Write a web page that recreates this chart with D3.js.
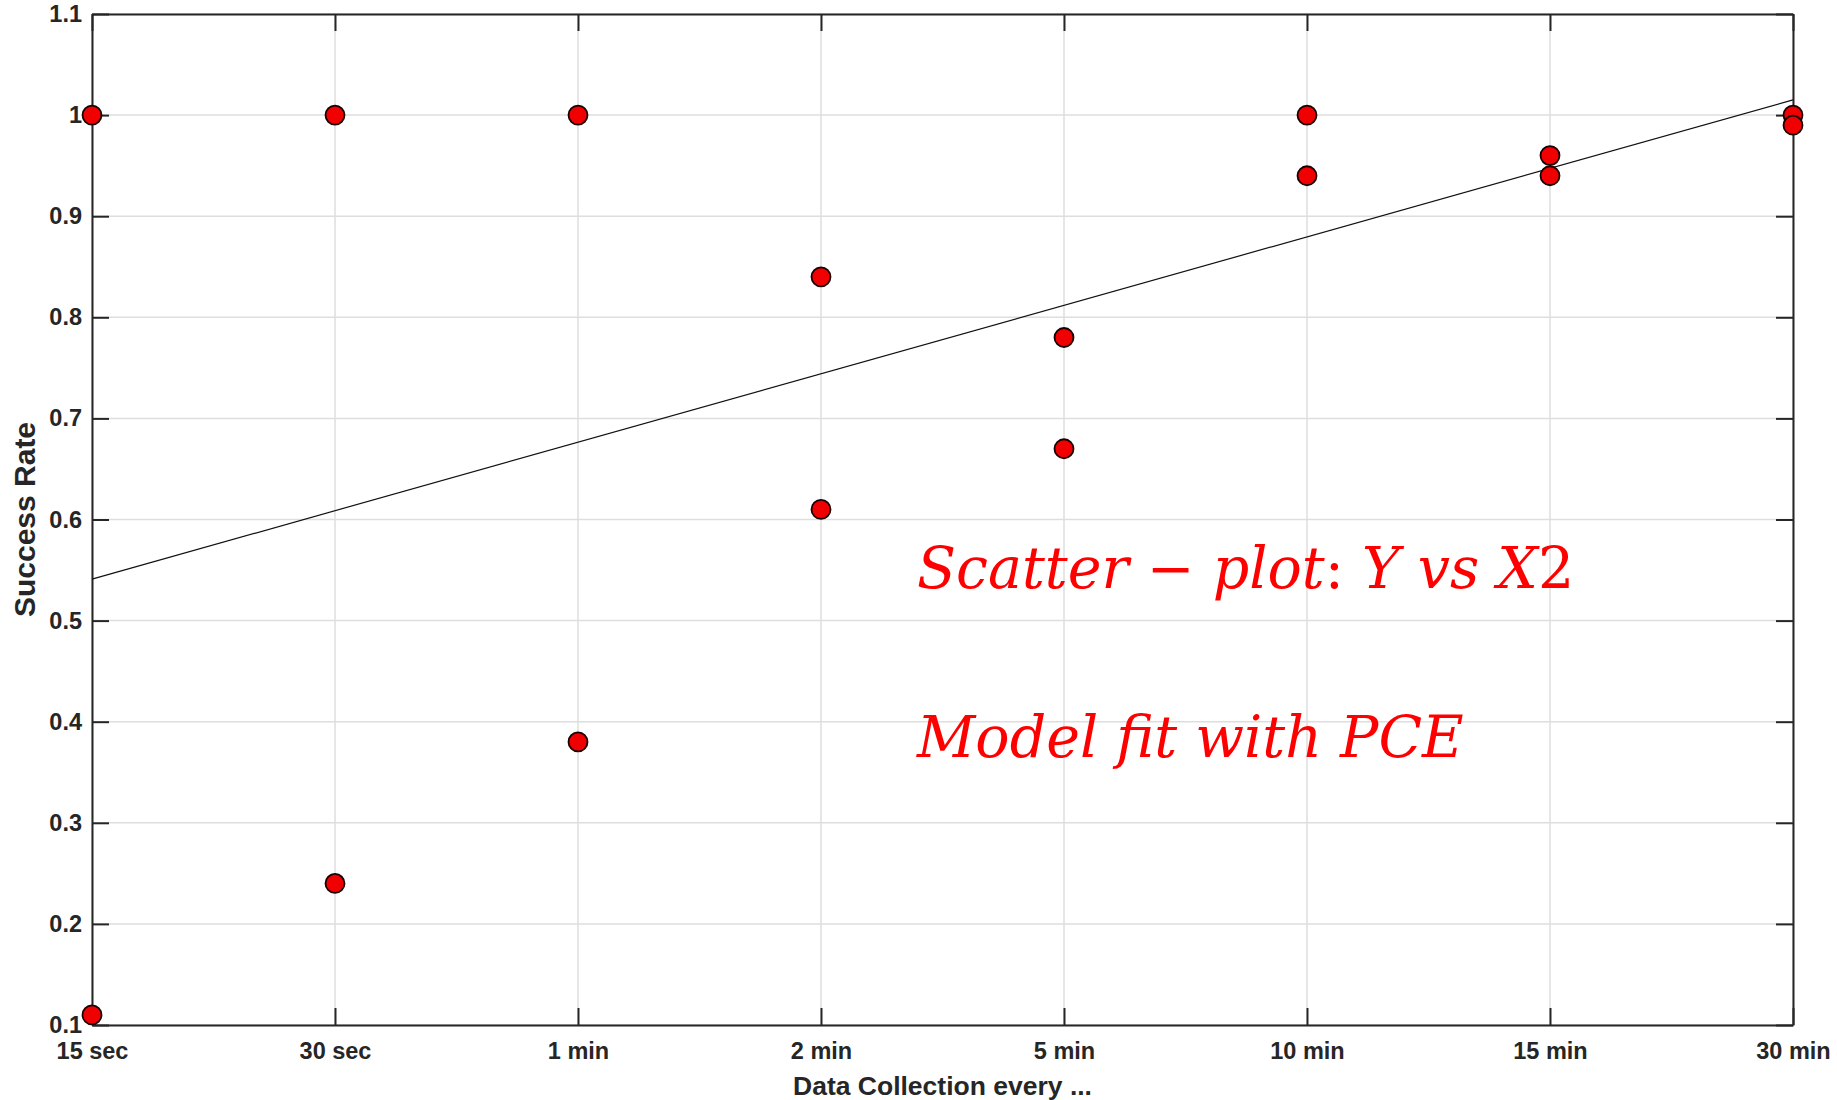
<!DOCTYPE html>
<html>
<head>
<meta charset="utf-8">
<script src="https://cdn.jsdelivr.net/npm/d3@7"></script>
<style>
  body { margin: 0; background: #fff; }
  .lbl { font-family: "Liberation Sans", Arial, sans-serif; }
  .tick text { font-family: "Liberation Sans", Arial, sans-serif; font-weight: bold; fill: #262626; font-size: 23.5px; }
  .ann { font-family: "DejaVu Serif", "Liberation Serif", serif; fill: #ff0000; }
</style>
</head>
<body>
<div id="chart"></div>
<script>
const categories = ["15 sec", "30 sec", "1 min", "2 min", "5 min", "10 min", "15 min", "30 min"];
const pointCategory = ["15 sec", "15 sec", "30 sec", "30 sec", "1 min", "1 min", "2 min", "2 min",
                       "5 min", "5 min", "10 min", "10 min", "15 min", "15 min", "30 min", "30 min"];
const successRate = [1.0, 0.11, 1.0, 0.24, 1.0, 0.38, 0.84, 0.61,
                     0.78, 0.67, 1.0, 0.94, 0.96, 0.94, 1.0, 0.99];
const fitCategory = ["15 sec", "30 min"];
const fitValue = [0.541, 1.015];
const yTicks = [0.1, 0.2, 0.3, 0.4, 0.5, 0.6, 0.7, 0.8, 0.9, 1.0, 1.1];

const margin = {top: 14, right: 44, bottom: 75, left: 92};
const W = 1837, H = 1100;
const width = W - margin.left - margin.right;
const height = H - margin.top - margin.bottom;

const svg = d3.select("#chart")
  .append("svg")
  .attr("width", W)
  .attr("height", H)
  .append("g")
  .attr("transform", `translate(${margin.left},${margin.top})`);

const x = d3.scalePoint().domain(categories).range([0, width]);
const y = d3.scaleLinear().domain([0.1, 1.1]).range([height, 0]);
const yFmt = d => d === 1 ? "1" : d3.format(".1f")(d);

// grid
svg.append("g")
  .selectAll("line")
  .data(categories)
  .join("line")
  .attr("x1", d => x(d)).attr("x2", d => x(d))
  .attr("y1", 0).attr("y2", height)
  .attr("stroke", "#dedede").attr("stroke-width", 1.5);
svg.append("g")
  .selectAll("line")
  .data(yTicks)
  .join("line")
  .attr("x1", 0).attr("x2", width)
  .attr("y1", d => y(d)).attr("y2", d => y(d))
  .attr("stroke", "#dedede").attr("stroke-width", 1.5);

// axes (inward ticks, box)
const styleAxis = g => {
  g.select(".domain").attr("stroke", "#262626").attr("stroke-width", 2);
  g.selectAll(".tick line").attr("stroke", "#262626").attr("stroke-width", 2);
};

svg.append("g")
  .attr("transform", `translate(0,${height})`)
  .call(d3.axisBottom(x).tickSizeInner(-17).tickSizeOuter(0).tickPadding(17))
  .call(styleAxis);
svg.append("g")
  .call(d3.axisTop(x).tickSizeInner(-17).tickSizeOuter(0).tickFormat(""))
  .call(styleAxis);
svg.append("g")
  .call(d3.axisLeft(y).tickValues(yTicks).tickFormat(yFmt).tickSizeInner(-17).tickSizeOuter(0).tickPadding(10))
  .call(styleAxis);
svg.append("g")
  .attr("transform", `translate(${width},0)`)
  .call(d3.axisRight(y).tickValues(yTicks).tickFormat("").tickSizeInner(-17).tickSizeOuter(0))
  .call(styleAxis);

// fit line
svg.append("line")
  .attr("x1", x(fitCategory[0])).attr("y1", y(fitValue[0]))
  .attr("x2", x(fitCategory[1])).attr("y2", y(fitValue[1]))
  .attr("stroke", "#111").attr("stroke-width", 1.2);

// points
svg.append("g")
  .selectAll("circle")
  .data(successRate)
  .join("circle")
  .attr("cx", (d, i) => x(pointCategory[i]))
  .attr("cy", d => y(d))
  .attr("r", 9.5)
  .attr("fill", "#f00000")
  .attr("stroke", "#1a0000")
  .attr("stroke-width", 1.8);

// axis titles
svg.append("text")
  .attr("class", "lbl")
  .attr("x", width / 2)
  .attr("y", height + 70)
  .attr("text-anchor", "middle")
  .attr("font-weight", "bold")
  .attr("font-size", 26.5)
  .attr("fill", "#262626")
  .text("Data Collection every ...");

svg.append("text")
  .attr("class", "lbl")
  .attr("transform", `translate(${-57},${height / 2}) rotate(-90)`)
  .attr("text-anchor", "middle")
  .attr("font-weight", "bold")
  .attr("font-size", 30)
  .attr("fill", "#262626")
  .text("Success Rate");

// annotation (math-style text)
const line1 = svg.append("text").attr("class", "ann")
  .attr("font-size", 57)
  .attr("x", 917 - margin.left).attr("y", 588 - margin.top);
line1.append("tspan").attr("font-style", "italic").text("Scatter");
line1.append("tspan").text(" \u2212 ");
line1.append("tspan").attr("font-style", "italic").text("plot");
line1.append("tspan").text(": ");
line1.append("tspan").attr("font-style", "italic").text("Y vs X");
line1.append("tspan").text("2");

const line2 = svg.append("text").attr("class", "ann")
  .attr("font-size", 57)
  .attr("x", 917 - margin.left).attr("y", 757 - margin.top);
line2.append("tspan").attr("font-style", "italic").text("Model fit with PCE");
</script>
</body>
</html>
